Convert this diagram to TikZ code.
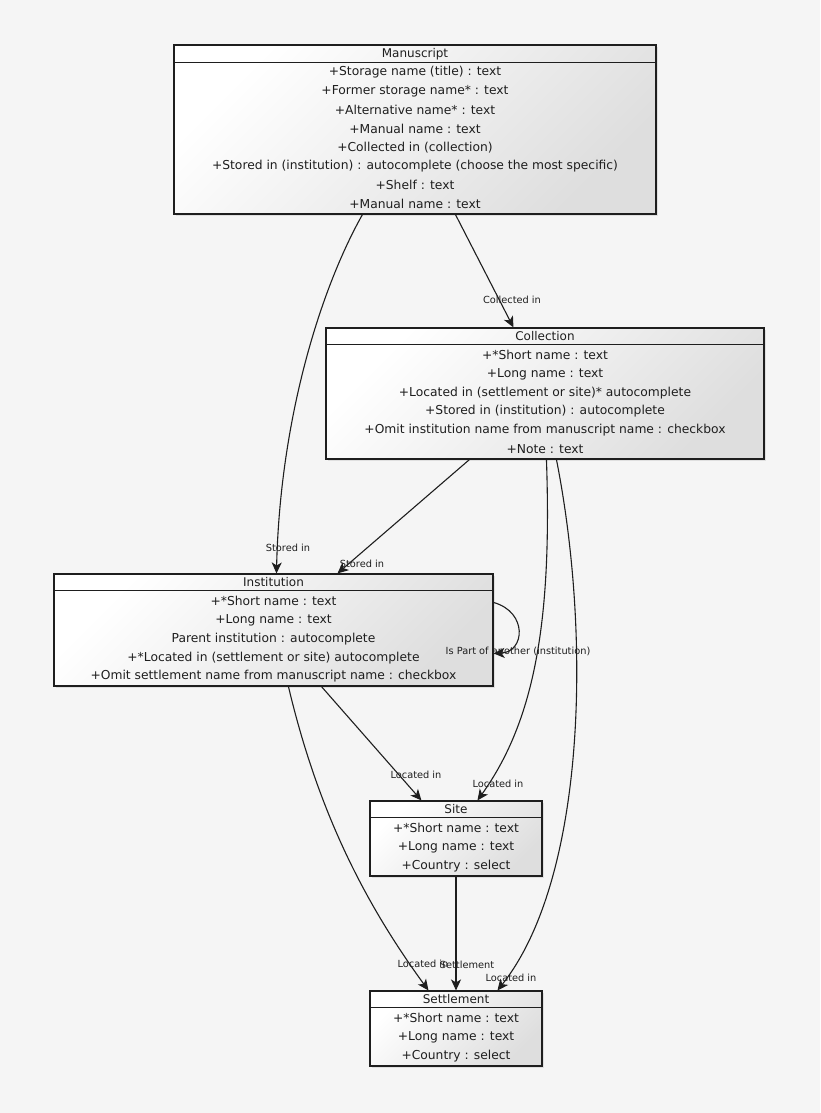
\documentclass[tikz,border=0pt]{standalone}
\usepackage{fontspec}
\setmainfont{DejaVu Sans}
\usetikzlibrary{arrows.meta,shadows,calc}
\definecolor{bg}{HTML}{F5F5F5}
\definecolor{ln}{HTML}{1E1E1E}
\tikzset{
  umlbox/.style={draw=ln, line width=1.1pt, rectangle, inner sep=0pt,
    shading=axis, top color=white, bottom color=black!13, shading angle=45,
    drop shadow={opacity=0.18, shadow xshift=2pt, shadow yshift=-2pt}},
  title/.style={font=\fontsize{12}{14}\selectfont, text=ln, inner sep=0pt},
  attr/.style={font=\fontsize{12.3}{14}\selectfont, text=ln, inner sep=0pt},
  lbl/.style={font=\fontsize{9.8}{11}\selectfont, text=ln, inner sep=0pt},
  conn/.style={draw=ln, line width=1.1pt, -{Stealth[length=11pt,width=10pt,inset=3pt]}},
  hdr/.style={draw=ln, line width=1.1pt}
}
\begin{document}
\begin{tikzpicture}[x=1pt,y=-1pt]
\useasboundingbox[fill=bg] (0,0) rectangle (820,1113);

% Manuscript
\node[umlbox, minimum width=482pt, minimum height=169pt] (man) at (415,129.5) {};
\draw[hdr] ([yshift=-18pt]man.north west) -- ([yshift=-18pt]man.north east);
\node[title] (mt) at (415,54) {Manuscript};
\node[attr] (m1) at (415,72.3) {+Storage name (title) : text};
\node[attr] (m2) at (415,91.1) {+Former storage name* : text};
\node[attr] (m3) at (415,109.9) {+Alternative name* : text};
\node[attr] (m4) at (415,128.7) {+Manual name : text};
\node[attr] (m5) at (415,147.5) {+Collected in (collection)};
\node[attr] (m6) at (415,166.3) {+Stored in (institution) : autocomplete (choose the most specific)};
\node[attr] (m7) at (415,185.1) {+Shelf : text};
\node[attr] (m8) at (415,203.9) {+Manual name : text};

% Collection
\node[umlbox, minimum width=438pt, minimum height=131pt] (col) at (545,393.5) {};
\draw[hdr] ([yshift=-17pt]col.north west) -- ([yshift=-17pt]col.north east);
\node[title] (ct) at (545,336.5) {Collection};
\node[attr] (c1) at (545,355.2) {+*Short name : text};
\node[attr] (c2) at (545,374) {+Long name : text};
\node[attr] (c3) at (545,392.8) {+Located in (settlement or site)* autocomplete};
\node[attr] (c4) at (545,411.6) {+Stored in (institution) : autocomplete};
\node[attr] (c5) at (545,430.4) {+Omit institution name from manuscript name : checkbox};
\node[attr] (c6) at (545,449.2) {+Note : text};

% Institution
\node[umlbox, minimum width=439pt, minimum height=112pt] (inst) at (273.5,630) {};
\draw[hdr] ([yshift=-17pt]inst.north west) -- ([yshift=-17pt]inst.north east);
\node[title] (it) at (273.5,582.5) {Institution};
\node[attr] (i1) at (273.5,601.2) {+*Short name : text};
\node[attr] (i2) at (273.5,620) {+Long name : text};
\node[attr] (i3) at (273.5,638.8) {Parent institution : autocomplete};
\node[attr] (i4) at (273.5,657.6) {+*Located in (settlement or site) autocomplete};
\node[attr] (i5) at (273.5,676.4) {+Omit settlement name from manuscript name : checkbox};

% Site
\node[umlbox, minimum width=172pt, minimum height=75pt] (site) at (456,838.5) {};
\draw[hdr] ([yshift=-17pt]site.north west) -- ([yshift=-17pt]site.north east);
\node[title] (st) at (456,809.5) {Site};
\node[attr] (s1) at (456,828.2) {+*Short name : text};
\node[attr] (s2) at (456,847) {+Long name : text};
\node[attr] (s3) at (456,865.8) {+Country : select};

% Settlement
\node[umlbox, minimum width=172pt, minimum height=75pt] (sett) at (456,1028.5) {};
\draw[hdr] ([yshift=-17pt]sett.north west) -- ([yshift=-17pt]sett.north east);
\node[title] (tt) at (456,999.5) {Settlement};
\node[attr] (t1) at (456,1018.2) {+*Short name : text};
\node[attr] (t2) at (456,1037) {+Long name : text};
\node[attr] (t3) at (456,1055.8) {+Country : select};

% Connectors
\draw[conn] ([xshift=189pt]man.south west) .. controls (320,290) and (280,420) .. ([xshift=223pt]inst.north west);
\node[lbl] (l1) at (288,548) {Stored in};

\draw[conn] ([xshift=282pt]man.south west) -- ([xshift=188pt]col.north west);
\node[lbl] (l2) at (512,300) {Collected in};

\draw[conn] ([xshift=144pt]col.south west) -- ([xshift=284pt]inst.north west);
\node[lbl] (l3) at (362,563.5) {Stored in};

\draw[conn] ([yshift=-29pt]inst.north east) .. controls (528,612) and (525,652) .. ([yshift=-80pt]inst.north east);
\node[lbl] (l4) at (518,651) {Is Part of another (institution)};

\draw[conn] ([xshift=268pt]inst.south west) -- ([xshift=52pt]site.north west);
\node[lbl] (l5) at (416,774.5) {Located in};

\draw[conn] ([xshift=221pt]col.south west) .. controls (552,620) and (535,720) .. ([xshift=108pt]site.north west);
\node[lbl] (l6) at (498,783.5) {Located in};

\draw[conn] ([xshift=235pt]inst.south west) .. controls (320,820) and (370,910) .. ([xshift=59pt]sett.north west);
\node[lbl] (l7) at (423,963.5) {Located in};

\draw[conn] (site.south) -- (sett.north);
\node[lbl] (l8) at (467,965) {Settlement};

\draw[conn] ([xshift=231pt]col.south west) .. controls (592,640) and (585,880) .. ([xshift=128pt]sett.north west);
\node[lbl] (l9) at (511,977.5) {Located in};
\end{tikzpicture}
\end{document}
